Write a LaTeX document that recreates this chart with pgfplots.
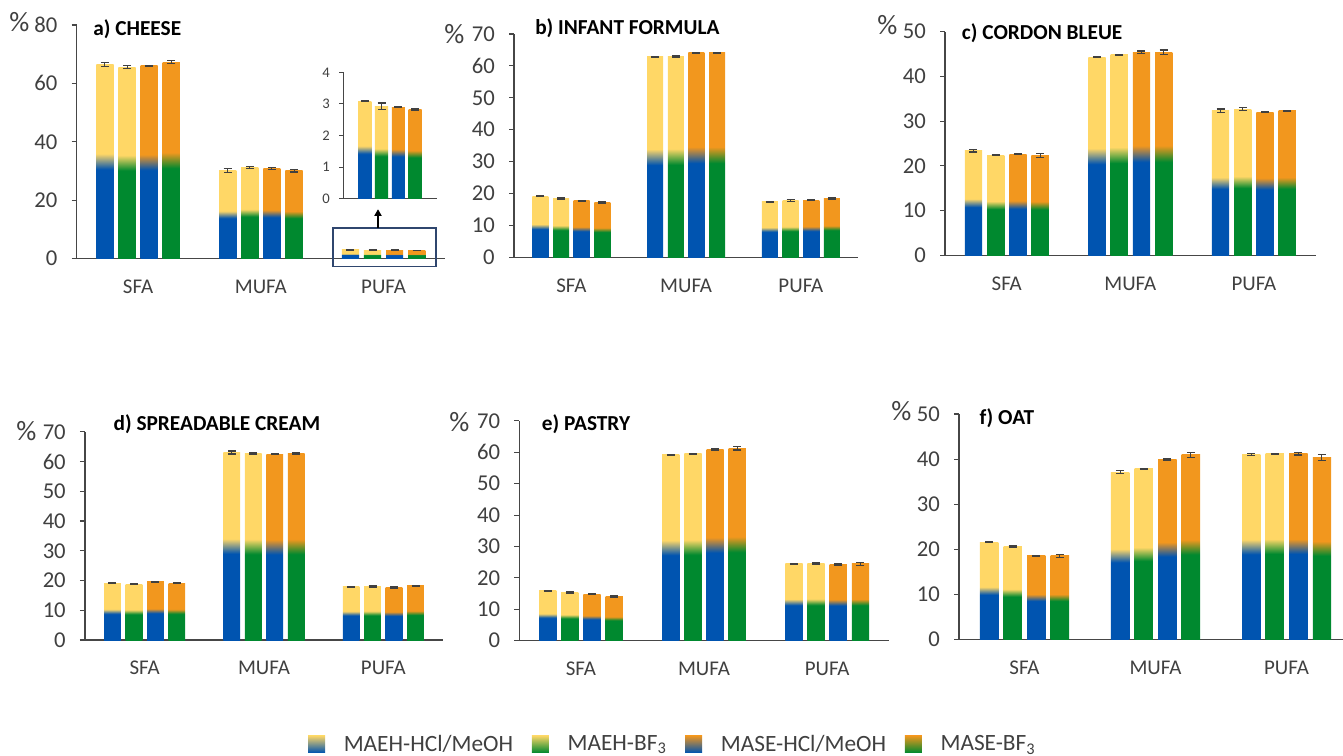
\documentclass[border=0pt]{standalone}
\usepackage{fontspec}
\setmainfont{Carlito}
\usepackage{pgfplots}
\pgfplotsset{compat=1.18}
\usetikzlibrary{arrows.meta}
\definecolor{cblue}{RGB}{0,84,176}
\definecolor{cgreen}{RGB}{0,137,47}
\definecolor{cyellow}{RGB}{255,215,102}
\definecolor{corange}{RGB}{242,151,30}
\definecolor{axgray}{RGB}{70,70,70}
\definecolor{txtgray}{RGB}{64,64,64}
\definecolor{errgray}{RGB}{64,64,64}
\definecolor{boxblue}{RGB}{47,70,110}
\pgfdeclareverticalshading{shA}{100bp}{color(0bp)=(cblue); color(48bp)=(cblue); color(52bp)=(cyellow); color(100bp)=(cyellow)}
\pgfdeclareverticalshading{shB}{100bp}{color(0bp)=(cgreen); color(48bp)=(cgreen); color(52bp)=(cyellow); color(100bp)=(cyellow)}
\pgfdeclareverticalshading{shC}{100bp}{color(0bp)=(cblue); color(48bp)=(cblue); color(52bp)=(corange); color(100bp)=(corange)}
\pgfdeclareverticalshading{shD}{100bp}{color(0bp)=(cgreen); color(48bp)=(cgreen); color(52bp)=(corange); color(100bp)=(corange)}
\newcommand\tickfont{\fontsize{17}{20}\selectfont}
\newcommand\catfont{\fontsize{15.7}{19}\selectfont}
\newcommand\titlefont{\fontsize{16}{19}\selectfont\bfseries}
\newcommand\pctfont{\fontsize{21}{24}\selectfont}
\pgfplotsset{
  panel/.style={scale only axis, anchor=south west, xmin=-0.5, xmax=2.5, ymin=0,
    axis lines*=left, axis line style={draw=axgray, line width=0.8pt},
    xtick={0,1,2}, xticklabels={SFA,MUFA,PUFA}, xtick style={draw=none},
    ytick style={draw=axgray, line width=0.8pt}, tick align=outside, major tick length=3.75pt,
    /pgf/number format/assume math mode=true,
    yticklabel style={font=\tickfont, text=txtgray, inner sep=0pt, xshift=-10.5pt},
    xticklabel style={font=\catfont, text=txtgray, inner sep=0pt, yshift=-12pt},
    clip=false},
  bbase/.style={ybar, bar width=0.14, draw=none},
  bA/.style={bbase, shading=shA, bar shift=-0.27,
    legend image code/.code={\shade[top color=cyellow, bottom color=cblue] (0pt,-6.4pt) rectangle (12.8pt,6.4pt);}},
  bB/.style={bbase, shading=shB, bar shift=-0.09,
    legend image code/.code={\shade[top color=cyellow, bottom color=cgreen] (0pt,-6.4pt) rectangle (12.8pt,6.4pt);}},
  bC/.style={bbase, shading=shC, bar shift=0.09,
    legend image code/.code={\shade[top color=corange, bottom color=cblue] (0pt,-6.4pt) rectangle (12.8pt,6.4pt);}},
  bD/.style={bbase, shading=shD, bar shift=0.27,
    legend image code/.code={\shade[top color=corange, bottom color=cgreen] (0pt,-6.4pt) rectangle (12.8pt,6.4pt);}},
  eb/.style={forget plot, draw=none, mark=none,
    error bars/y dir=both, error bars/y explicit,
    error bars/error bar style={draw=errgray, line width=0.7pt},
    error bars/error mark options={rotate=90, draw=errgray, line width=0.9pt, mark size=3pt}},
}
\begin{document}
\begin{tikzpicture}[x=0.75pt, y=-0.75pt]
\path[use as bounding box] (0,0) rectangle (1343,756);
% a) CHEESE
\begin{axis}[panel, at={(57.53pt,-194.03pt)}, width=276.2pt, height=175.3pt, ymax=80, ytick={0,20,...,80}]
\addplot[bA] coordinates {(0,66.5)};
\addplot[bB] coordinates {(0,65.6)};
\addplot[bC] coordinates {(0,66.0)};
\addplot[bD] coordinates {(0,67.3)};
\addplot[bA] coordinates {(1,30.2)};
\addplot[bB] coordinates {(1,31.3)};
\addplot[bC] coordinates {(1,30.9)};
\addplot[bD] coordinates {(1,30.1)};
\addplot[bA] coordinates {(2,3.09)};
\addplot[bB] coordinates {(2,2.93)};
\addplot[bC] coordinates {(2,2.90)};
\addplot[bD] coordinates {(2,2.83)};
\addplot[eb] coordinates {(-0.27,66.5) +- (0,0.7) (-0.09,65.6) +- (0,0.4) (0.09,66.0) +- (0,0.2) (0.27,67.3) +- (0,0.5)
  (0.73,30.2) +- (0,0.7) (0.91,31.3) +- (0,0.3) (1.09,30.9) +- (0,0.3) (1.27,30.1) +- (0,0.4)
  (1.73,3.09) +- (0,0.1) (1.91,2.93) +- (0,0.1) (2.09,2.90) +- (0,0.1) (2.27,2.83) +- (0,0.1)};
\end{axis}
% inset
\begin{axis}[scale only axis, anchor=south west, at={(257.48pt,-149.03pt)}, width=69.9pt, height=94.8pt,
  xmin=-0.5, xmax=0.5, ymin=0, ymax=4, ytick={0,1,2,3,4}, xtick=\empty,
  axis lines*=left, axis line style={draw=axgray, line width=0.8pt},
  ytick style={draw=axgray, line width=0.8pt}, tick align=outside, major tick length=3pt,
  /pgf/number format/assume math mode=true,
  yticklabel style={font=\fontsize{11}{13}\selectfont, text=txtgray, inner sep=0pt, xshift=-7pt}, clip=false]
\addplot[bA] coordinates {(0,3.09)};
\addplot[bB] coordinates {(0,2.93)};
\addplot[bC] coordinates {(0,2.90)};
\addplot[bD] coordinates {(0,2.83)};
\addplot[eb] coordinates {(-0.27,3.09) +- (0,0.02) (-0.09,2.93) +- (0,0.10) (0.09,2.90) +- (0,0.02) (0.27,2.83) +- (0,0.02)};
\end{axis}
% b) INFANT FORMULA
\begin{axis}[panel, at={(385.5pt,-192.98pt)}, width=258.2pt, height=167.5pt, ymax=70, ytick={0,10,...,70}]
\addplot[bA] coordinates {(0,19.2)};
\addplot[bB] coordinates {(0,18.5)};
\addplot[bC] coordinates {(0,17.7)};
\addplot[bD] coordinates {(0,17.2)};
\addplot[bA] coordinates {(1,62.8)};
\addplot[bB] coordinates {(1,63.0)};
\addplot[bC] coordinates {(1,64.1)};
\addplot[bD] coordinates {(1,64.1)};
\addplot[bA] coordinates {(2,17.4)};
\addplot[bB] coordinates {(2,17.8)};
\addplot[bC] coordinates {(2,17.9)};
\addplot[bD] coordinates {(2,18.4)};
\addplot[eb] coordinates {(-0.27,19.2) +- (0,0.2) (-0.09,18.5) +- (0,0.2) (0.09,17.7) +- (0,0.2) (0.27,17.2) +- (0,0.2)
  (0.73,62.8) +- (0,0.2) (0.91,63.0) +- (0,0.2) (1.09,64.1) +- (0,0.2) (1.27,64.1) +- (0,0.2)
  (1.73,17.4) +- (0,0.2) (1.91,17.8) +- (0,0.2) (2.09,17.9) +- (0,0.2) (2.27,18.4) +- (0,0.2)};
\end{axis}
% c) CORDON BLEUE
\begin{axis}[panel, at={(708.75pt,-191.48pt)}, width=278pt, height=167.7pt, ymax=50, ytick={0,10,...,50}]
\addplot[bA] coordinates {(0,23.4)};
\addplot[bB] coordinates {(0,22.4)};
\addplot[bC] coordinates {(0,22.6)};
\addplot[bD] coordinates {(0,22.3)};
\addplot[bA] coordinates {(1,44.3)};
\addplot[bB] coordinates {(1,44.8)};
\addplot[bC] coordinates {(1,45.4)};
\addplot[bD] coordinates {(1,45.4)};
\addplot[bA] coordinates {(2,32.3)};
\addplot[bB] coordinates {(2,32.7)};
\addplot[bC] coordinates {(2,32.0)};
\addplot[bD] coordinates {(2,32.3)};
\addplot[eb] coordinates {(-0.27,23.4) +- (0,0.3) (-0.09,22.4) +- (0,0.1) (0.09,22.6) +- (0,0.1) (0.27,22.3) +- (0,0.4)
  (0.73,44.3) +- (0,0.1) (0.91,44.8) +- (0,0.1) (1.09,45.4) +- (0,0.3) (1.27,45.4) +- (0,0.5)
  (1.73,32.3) +- (0,0.4) (1.91,32.7) +- (0,0.3) (2.09,32.0) +- (0,0.1) (2.27,32.3) +- (0,0.1)};
\end{axis}
% d) SPREADABLE CREAM
\begin{axis}[panel, at={(63.75pt,-480pt)}, width=268.5pt, height=156.2pt, ymax=70, ytick={0,10,...,70}]
\addplot[bA] coordinates {(0,19.1)};
\addplot[bB] coordinates {(0,18.8)};
\addplot[bC] coordinates {(0,19.5)};
\addplot[bD] coordinates {(0,19.1)};
\addplot[bA] coordinates {(1,63.0)};
\addplot[bB] coordinates {(1,62.7)};
\addplot[bC] coordinates {(1,62.5)};
\addplot[bD] coordinates {(1,62.7)};
\addplot[bA] coordinates {(2,17.9)};
\addplot[bB] coordinates {(2,18.0)};
\addplot[bC] coordinates {(2,17.6)};
\addplot[bD] coordinates {(2,18.2)};
\addplot[eb] coordinates {(-0.27,19.1) +- (0,0.2) (-0.09,18.8) +- (0,0.2) (0.09,19.5) +- (0,0.2) (0.27,19.1) +- (0,0.2)
  (0.73,63.0) +- (0,0.5) (0.91,62.7) +- (0,0.2) (1.09,62.5) +- (0,0.2) (1.27,62.7) +- (0,0.2)
  (1.73,17.9) +- (0,0.2) (1.91,18.0) +- (0,0.2) (2.09,17.6) +- (0,0.2) (2.27,18.2) +- (0,0.2)};
\end{axis}
% e) PASTRY
\begin{axis}[panel, at={(389.48pt,-480.53pt)}, width=277.1pt, height=164.9pt, ymax=70, ytick={0,10,...,70},
  legend columns=4,
  legend style={at={(0.416,-0.470)}, anchor=center, draw=none, fill=none,
    font=\fontsize{17.5}{21}\selectfont, text=txtgray,
    /tikz/every odd column/.style={column sep=12pt},
    /tikz/every even column/.style={column sep=12pt}}]
\addplot[bA] coordinates {(0,15.9)};
\addlegendentry{MAEH-HCl/MeOH}
\addplot[bB] coordinates {(0,15.4)};
\addlegendentry{MAEH-BF\textsubscript{3}}
\addplot[bC] coordinates {(0,14.8)};
\addlegendentry{MASE-HCl/MeOH}
\addplot[bD] coordinates {(0,14.1)};
\addlegendentry{MASE-BF\textsubscript{3}}
\addplot[bA, forget plot] coordinates {(1,59.2)};
\addplot[bB, forget plot] coordinates {(1,59.5)};
\addplot[bC, forget plot] coordinates {(1,60.9)};
\addplot[bD, forget plot] coordinates {(1,61.3)};
\addplot[bA, forget plot] coordinates {(2,24.5)};
\addplot[bB, forget plot] coordinates {(2,24.6)};
\addplot[bC, forget plot] coordinates {(2,24.3)};
\addplot[bD, forget plot] coordinates {(2,24.5)};
\addplot[eb] coordinates {(-0.27,15.9) +- (0,0.2) (-0.09,15.4) +- (0,0.2) (0.09,14.8) +- (0,0.2) (0.27,14.1) +- (0,0.2)
  (0.73,59.2) +- (0,0.2) (0.91,59.5) +- (0,0.2) (1.09,60.9) +- (0,0.2) (1.27,61.3) +- (0,0.6)
  (1.73,24.5) +- (0,0.2) (1.91,24.6) +- (0,0.2) (2.09,24.3) +- (0,0.2) (2.27,24.5) +- (0,0.5)};
\end{axis}
% f) OAT
\begin{axis}[panel, at={(719.25pt,-479.48pt)}, width=294.8pt, height=169pt, ymax=50, ytick={0,10,...,50}]
\addplot[bA] coordinates {(0,21.5)};
\addplot[bB] coordinates {(0,20.6)};
\addplot[bC] coordinates {(0,18.5)};
\addplot[bD] coordinates {(0,18.5)};
\addplot[bA] coordinates {(1,37.1)};
\addplot[bB] coordinates {(1,37.8)};
\addplot[bC] coordinates {(1,39.9)};
\addplot[bD] coordinates {(1,40.9)};
\addplot[bA] coordinates {(2,41.0)};
\addplot[bB] coordinates {(2,41.2)};
\addplot[bC] coordinates {(2,41.2)};
\addplot[bD] coordinates {(2,40.3)};
\addplot[eb] coordinates {(-0.27,21.5) +- (0,0.1) (-0.09,20.6) +- (0,0.1) (0.09,18.5) +- (0,0.1) (0.27,18.5) +- (0,0.3)
  (0.73,37.1) +- (0,0.3) (0.91,37.8) +- (0,0.1) (1.09,39.9) +- (0,0.1) (1.27,40.9) +- (0,0.5)
  (1.73,41.0) +- (0,0.3) (1.91,41.2) +- (0,0.1) (2.09,41.2) +- (0,0.3) (2.27,40.3) +- (0,0.7)};
\end{axis}
% inset box and arrow
\draw[boxblue, line width=0.9pt] (333,228) rectangle (436,266.7);
\draw[black, line width=0.9pt, -{Triangle[length=5pt,width=5.5pt]}] (378,228) -- (378,209.3);
% titles
\node[anchor=base west, inner sep=0pt, font=\titlefont] at (93,36) {a) CHEESE};
\node[anchor=base west, inner sep=0pt, font=\titlefont] at (535,35) {b) INFANT FORMULA};
\node[anchor=base west, inner sep=0pt, font=\titlefont] at (961.7,39.3) {c) CORDON BLEUE};
\node[anchor=base west, inner sep=0pt, font=\titlefont] at (113.3,430.7) {d) SPREADABLE CREAM};
\node[anchor=base west, inner sep=0pt, font=\titlefont] at (541.7,430) {e) PASTRY};
\node[anchor=base west, inner sep=0pt, font=\titlefont] at (979.3,424) {f) OAT};
% percent signs
\node[anchor=base west, inner sep=0pt, font=\pctfont, text=txtgray] at (9,31.7) {\%};
\node[anchor=base west, inner sep=0pt, font=\pctfont, text=txtgray] at (444,43.3) {\%};
\node[anchor=base west, inner sep=0pt, font=\pctfont, text=txtgray] at (877,35) {\%};
\node[anchor=base west, inner sep=0pt, font=\pctfont, text=txtgray] at (16,440) {\%};
\node[anchor=base west, inner sep=0pt, font=\pctfont, text=txtgray] at (449,431.7) {\%};
\node[anchor=base west, inner sep=0pt, font=\pctfont, text=txtgray] at (891,420.7) {\%};
\end{tikzpicture}
\end{document}
